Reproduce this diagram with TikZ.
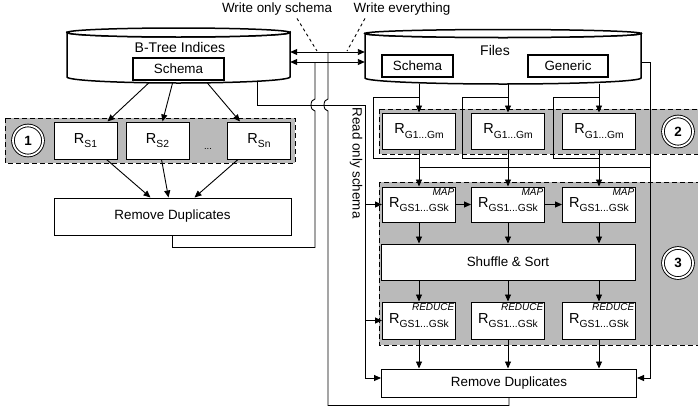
\documentclass[tikz,border=0pt]{standalone}
\usepackage{fontspec}
\setmainfont{Liberation Sans}
\usetikzlibrary{arrows.meta}

% R with a lowered subscript
\newcommand{\rsub}[1]{{\fontsize{14.5}{15}\selectfont R}\raisebox{-4.5pt}{\fontsize{10.3}{11}\selectfont #1}}

\begin{document}
\begin{tikzpicture}[x=1pt, y=-1pt,
  txt/.style={font=\fontsize{13.4}{15}\selectfont, inner sep=0pt},
  box/.style={txt, draw, line width=1pt, fill=white},
  region/.style={fill=black!27, draw, line width=0.9pt, dash pattern=on 5pt off 3pt},
  cyl/.style={draw, line width=1.5pt, fill=white},
  link/.style={line width=0.9pt},
  arr/.style={link, -{Triangle[length=7pt,width=6pt]}},
  dbl/.style={link, {Triangle[length=7pt,width=6pt]}-{Triangle[length=7pt,width=6pt]}},
  tag/.style={font=\itshape\fontsize{10}{10}\selectfont, anchor=north east, inner sep=1.5pt},
  num/.style={circle, draw, double, double distance=1.8pt, line width=0.9pt, fill=white,
    minimum size=30pt, inner sep=0pt, font=\bfseries\fontsize{13.4}{15}\selectfont}
]
\useasboundingbox (0,0) rectangle (698,410);

% stores
\path[cyl] (67,32.5) -- (67,77) arc[start angle=180, end angle=0, x radius=111.5, y radius=6]
  -- (290,32.5) arc[start angle=0, end angle=180, x radius=111.5, y radius=4.5] -- cycle;
\draw[cyl] (178.5,32.5) ellipse[x radius=111.5, y radius=4.5];
\path[cyl] (365,33.5) -- (365,78) arc[start angle=180, end angle=0, x radius=138, y radius=6]
  -- (641,33.5) arc[start angle=0, end angle=180, x radius=138, y radius=4] -- cycle;
\draw[cyl] (503,33.5) ellipse[x radius=138, y radius=4];

\node[minimum width=223pt, minimum height=51pt, inner sep=0pt] (btree) at (178.5,57.5) {};
\node[minimum width=276pt, minimum height=51pt, inner sep=0pt] (files) at (503,58.5) {};
\node[txt, font=\fontsize{14}{15}\selectfont] (btreename) at (180,47) {B-Tree Indices};
\node[box, line width=1.3pt, minimum width=91pt, minimum height=22pt] (schemaL) at (178.5,69) {Schema};
\node[txt, font=\fontsize{14}{15}\selectfont] (filesname) at (495,50) {Files};
\node[box, line width=1.3pt, minimum width=71pt, minimum height=22pt] (schemaR) at (417.5,66) {Schema};
\node[box, line width=1.3pt, minimum width=80pt, minimum height=22pt] (generic) at (568,66) {Generic};

% write lines between the stores
\draw[dbl] (btree.east |- 0,52) -- (files.west |- 0,52);
\draw[dbl] (btree.east |- 0,62) -- (files.west |- 0,62);

\node[txt] (wos) at (277,9) {Write only schema};
\node[txt] (wev) at (402,9) {Write everything};
\coordinate (wosend) at (317,51);
\coordinate (wevend) at (347,51);
\draw[link, dashed] ([xshift=20pt,yshift=-3pt]wos.south) -- (wosend);
\draw[link, dashed] ([xshift=-37pt,yshift=-3pt]wev.south) -- (wevend);

% region 1
\draw[region] (5,118) rectangle (295,163);
\node[num] (n1) at (28,140.5) {1};
\foreach \x/\s [count=\i] in {85.5/S1,157.5/S2,259/Sn}
  \node[box, minimum width=63pt, minimum height=37pt] (rs\i) at (\x,140.5) {\rsub{\s}};
\node[txt, font=\fontsize{9.5}{10}\selectfont] (dots) at (208,149) {...};
\node[box, minimum width=237pt, minimum height=37pt] (rd1) at (172.5,216.5) {Remove Duplicates};

\draw[arr] ([xshift=-30pt]btree.south) -- ([xshift=22pt]rs1.north);
\draw[arr] ([xshift=-6pt]btree.south) -- ([xshift=5pt]rs2.north);
\draw[arr] ([xshift=29pt]btree.south) -- ([xshift=-19pt]rs3.north);
\draw[arr] ([xshift=21pt]rs1.south) -- ([xshift=-22pt]rd1.north);
\draw[arr] ([xshift=4pt]rs2.south) -- ([xshift=-4pt]rd1.north);
\draw[arr] ([xshift=-21pt]rs3.south) -- ([xshift=22pt]rd1.north);

% regions 2 and 3
\draw[region] (379,109) rectangle (705,154);
\draw[region] (379,182) rectangle (705,345);
\node[num] (n2) at (678,131.5) {2};
\node[num] (n3) at (678,263) {3};

\foreach \x [count=\i] in {419,508,599} {
  \node[box, minimum width=73pt, minimum height=36pt] (rg\i) at (\x,131) {\rsub{G1...Gm}};
  \node[box, minimum width=73pt, minimum height=35pt] (map\i) at (\x,204.5) {\rsub{GS1...GSk}};
  \node[tag] (maptag\i) at (map\i.north east) {MAP};
  \node[box, minimum width=73pt, minimum height=37pt] (red\i) at (\x,320.5) {\rsub{GS1...GSk}};
  \node[tag] (redtag\i) at (red\i.north east) {REDUCE};
}
\node[box, minimum width=254pt, minimum height=36pt] (ss) at (508,262) {Shuffle \& Sort};
\node[box, minimum width=255pt, minimum height=28pt] (rd2) at (509,383) {Remove Duplicates};

% files through the stages
\foreach \i in {1,2,3} {
  \draw[arr] (files.south -| rg\i) -- (rg\i.north);
  \draw[link] (rg\i |- 0,97) -- ++(-46,0) |- (rg\i |- 0,158);
  \draw[arr] (rg\i.south) -- (map\i.north);
  \draw[arr] (map\i.south) -- (map\i.south |- ss.north);
  \draw[arr] (red\i.north |- ss.south) -- (red\i.north);
  \draw[arr] (red\i.south) -- (red\i.south |- rd2.north);
}
\draw[arr] (map1.east) -- (map2.west);
\draw[arr] (map2.east) -- (map3.west);

% generic line
\coordinate (gentop) at (650,62);
\coordinate (genbot) at (650,378);
\draw[arr] (files.east |- gentop) -- (gentop) -- (genbot) -- (rd2.east |- genbot);
\draw[link] (rg1 |- 0,167) -- (gentop |- 0,167);

% read only schema line
\coordinate (rostop) at (365,105);
\coordinate (rosbot) at (365,378);
\draw[link] ([xshift=78.5pt,yshift=2pt]btree.south) |- (rostop) -- (rosbot);
\draw[arr] (rosbot) -- (rd2.west |- rosbot);
\draw[arr] (rostop |- map1) -- (map1.west);
\draw[arr] (rostop |- red1) -- (red1.west);
\node[txt, rotate=-90] (ros) at (356,163) {Read only schema};

% outputs back to the stores (hop over the read line)
\coordinate (wr2) at (315,62);
\coordinate (wr1) at (328,52);
\draw[link] (rd1.south) -- ++(0,12) -| (315,111)
  arc[start angle=90, end angle=270, x radius=4, y radius=6] -- (wr2);
\draw[link] (rd2.south) -- ++(0,8) -| (328,111)
  arc[start angle=90, end angle=270, x radius=4, y radius=6] -- (wr1);

\end{tikzpicture}
\end{document}
